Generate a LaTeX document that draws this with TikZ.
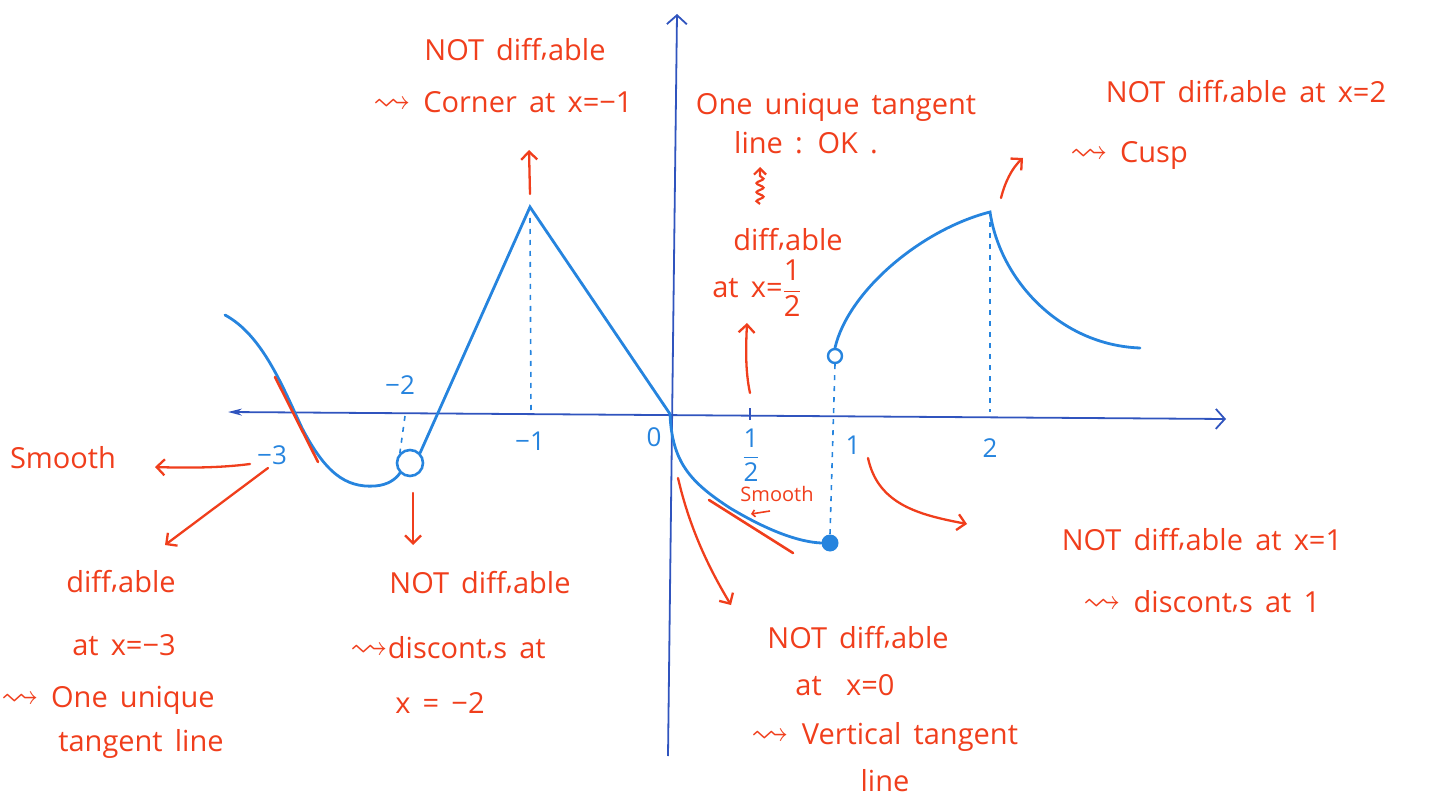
\documentclass[tikz,border=0pt]{standalone}
\usepackage{amsmath,amssymb}
\usepackage{fontspec}
\setmainfont{Open Sans}
\usetikzlibrary{arrows.meta,decorations.pathmorphing}
\definecolor{pen}{RGB}{240,62,28}
\definecolor{ink}{RGB}{38,132,222}
\definecolor{axisink}{RGB}{48,84,190}
\newcommand{\handfont}{\fontsize{29}{34}\selectfont\spaceskip=.42em plus .1em\relax}
\newcommand{\dable}{diff\raisebox{.3ex}{,}able}
\newcommand{\dcont}{discont\raisebox{.3ex}{,}s}
\newcommand{\lead}{\scalebox{1.3}{$\rightsquigarrow$}}
\newcommand{\halfnum}{$\dfrac{\text{1}}{\text{2}}$}

\begin{document}
\begin{tikzpicture}[x=1pt, y=-1pt, font=\handfont,
  note/.style={text=pen, inner sep=0pt},
  small/.style={note, font=\fontsize{20}{22}\selectfont},
  lbl/.style={text=ink, inner sep=0pt, font=\fontsize{26}{30}\selectfont},
  arr/.style={-{Straight Barb[length=8pt,width=16pt]}, pen, line width=2.3pt, line cap=round},
  curve/.style={ink, line width=2.8pt, line cap=round},
  guide/.style={ink, line width=1.6pt, dash pattern=on 5pt off 6pt},
  axis/.style={axisink, line width=1.8pt},
  tang/.style={pen, line width=2.6pt, line cap=round}]
\useasboundingbox (0,0) rectangle (1454,802);

% axes
\coordinate (xl) at (228,412); \coordinate (xr) at (1226,419);
\coordinate (yb) at (668,756); \coordinate (yt) at (677,14);
\draw[axis, {Stealth[length=14pt,width=7pt]}-{Straight Barb[length=9pt,width=20pt]}] (xl) -- (xr);
\draw[axis, -{Straight Barb[length=9pt,width=20pt]}] (yb) -- (yt);

% key points of the graph
\coordinate (orig) at (670,414);
\coordinate (peak) at (530,207);
\coordinate (cusp) at (990,212);
\node[circle, draw=ink, line width=2.6pt, fill=white, minimum size=26pt, inner sep=0pt] (hole2) at (410,463) {};
\node[circle, draw=ink, line width=2.4pt, fill=white, minimum size=14pt, inner sep=0pt] (hole1) at (835,356) {};
\node[circle, fill=ink, minimum size=17pt, inner sep=0pt] (dot1) at (830,543) {};

% dashed guides
\draw[guide] (405,416) -- (hole2.north west);
\draw[guide] (530,218) -- (531,410);
\draw[guide] (hole1.south) -- (dot1.north);
\draw[guide] (990,222) -- (990,412);
\draw[axisink, line width=2.4pt] (750,408) -- (750,420);

% graph pieces
\draw[curve] (225,315) .. controls (262,335) and (282,385) .. (302,428) .. controls (325,472) and (345,488) .. (375,486) .. controls (388,485) and (396,479) .. (hole2.south west);
\draw[curve] (hole2.north east) -- (peak) -- (orig);
\draw[curve] (orig) .. controls (672,462) and (690,482) .. (730,508) .. controls (770,532) and (800,542) .. (dot1.west);
\draw[curve] (hole1.north) .. controls (848,292) and (920,230) .. (cusp) .. controls (1000,280) and (1060,345) .. (1140,348);

% tangent lines
\draw[tang] (275,377) -- (318,462);
\draw[tang] (709,500) -- (793,553);

% axis labels
\node[lbl] (lm3) at (272,455) {−3};
\node[lbl] (lm2) at (400,385) {−2};
\node[lbl] (lm1) at (530,441) {−1};
\node[lbl] (l0) at (654,437) {0};
\node[lbl] (lhalf) at (751,455) {\halfnum};
\node[lbl] (l1) at (853,445) {1};
\node[lbl] (l2) at (990,448) {2};

% corner at -1
\node[note] (corner1) at (515,50) {NOT \dable};
\node[note] (corner2) at (503,102) {\lead{} Corner at x=−1};
\coordinate (cornerfoot) at (530,194);
\draw[arr] (cornerfoot) -- (529,150);

% x = 1/2
\node[note] (tan1) at (836,107) {One unique tangent};
\node[note] (tan2) at (806,143) {line : OK .};
\node[note] (half1) at (788,240) {\dable};
\node[note] (half2) at (757,288) {at x=\halfnum};
\draw[pen, line width=2.2pt, -{Straight Barb[length=6pt,width=12pt]}, decorate, decoration={snake, amplitude=3.5pt, segment length=9pt, post length=6pt}] (760,204) -- (760,167);
\coordinate (halffoot) at (750,393);
\draw[arr] (halffoot) .. controls (745,370) and (746,345) .. (747,323);

% cusp at 2
\node[note] (cusp1) at (1246,92) {NOT \dable{} at x=2};
\node[note] (cusp2) at (1129,155) {\lead{} Cusp};
\coordinate (cuspfoot) at (1001,198);
\draw[arr] (cuspfoot) .. controls (1005,182) and (1012,168) .. (1023,158);

% x = -3
\node[note] (smooth) at (63,458) {Smooth};
\node[note] (m3a) at (121,582) {\dable};
\node[note] (m3b) at (124,645) {at x=−3};
\node[note] (m3c) at (108,700) {\lead{} One unique};
\node[note] (m3d) at (141,744) {tangent line};
\draw[arr] (250,464) .. controls (220,468) and (185,468) .. (155,467);
\draw[arr] (268,468) -- (165,545);

% x = -2
\node[note] (m2a) at (480,583) {NOT \dable};
\node[note] (m2b) at (448,648) {\lead\dcont{} at};
\node[note] (m2c) at (440,703) {x = −2};
\draw[arr] (413,493) -- (413,545);

% x = 0
\node[note] (z1) at (858,638) {NOT \dable};
\node[note] (z2) at (845,685) {at \ x=0};
\node[note] (z3) at (885,737) {\lead{} Vertical tangent};
\node[note] (z4) at (885,781) {line};
\draw[arr] (678,478) .. controls (690,530) and (710,570) .. (731,605);
\node[small] (smooth2) at (777,494) {Smooth};
\draw[pen, line width=1.6pt, -{Straight Barb[length=3pt,width=7pt]}] (770,511) -- (751,514);

% x = 1
\node[note] (one1) at (1202,540) {NOT \dable{} at x=1};
\node[note] (one2) at (1202,602) {\lead{} \dcont{} at 1};
\draw[arr] (868,458) .. controls (878,505) and (920,515) .. (967,524);
\end{tikzpicture}
\end{document}
